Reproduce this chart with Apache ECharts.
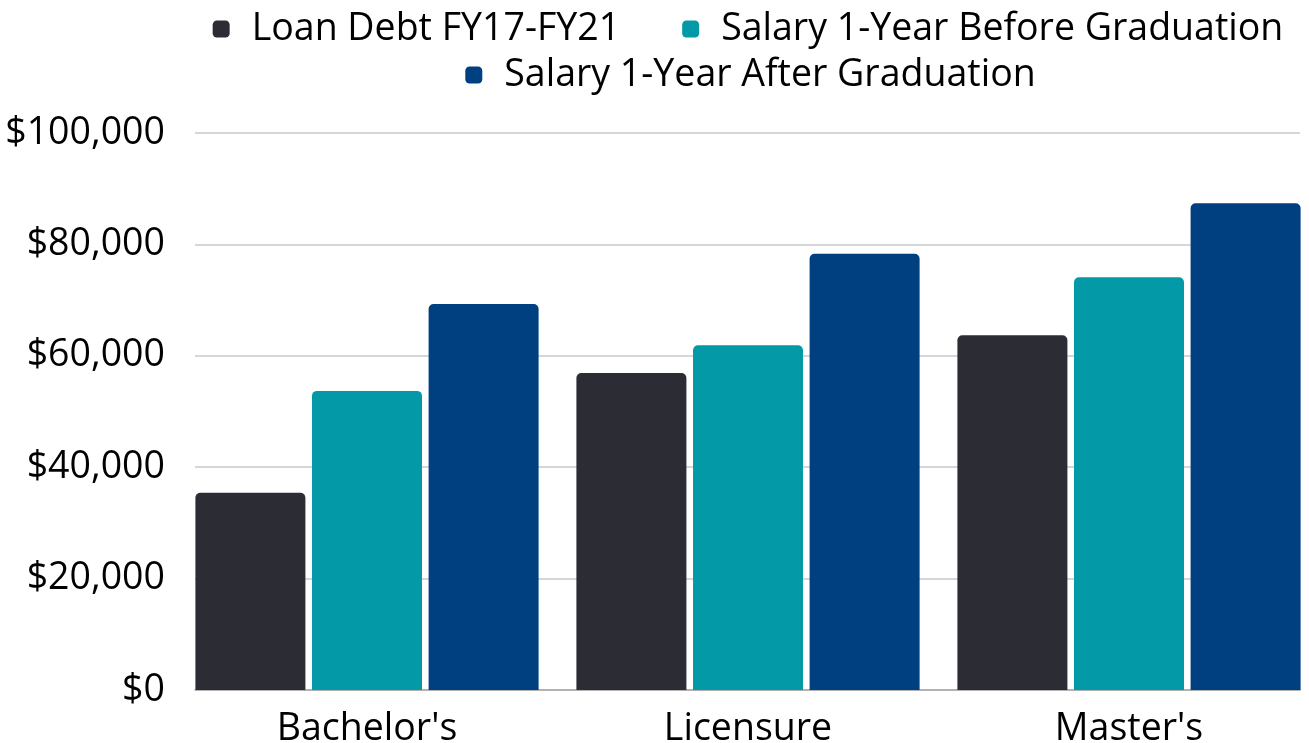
<!DOCTYPE html>
<html>
<head>
<meta charset="utf-8">
<script src="https://cdn.jsdelivr.net/npm/echarts@6/dist/echarts.min.js"></script>
<style>
  html, body { margin: 0; padding: 0; background: #fff; }
  #chart { width: 1309px; height: 743px; }
</style>
</head>
<body>
<div id="chart"></div>
<script>
var categories = ["Bachelor's", "Licensure", "Master's"];
var loanDebt = [35400, 56900, 63700];
var salaryBefore = [53700, 61900, 74100];
var salaryAfter = [69300, 78300, 87400];
var yTicks = [0, 20000, 40000, 60000, 80000, 100000];

var seriesNames = ['Loan Debt FY17-FY21', 'Salary 1-Year Before Graduation', 'Salary 1-Year After Graduation'];
var colors = ['#2c2c35', '#0399a7', '#003f80'];
var font = 'Open Sans';
var fontSize = 37.5;

var myChart = echarts.init(document.getElementById('chart'));

function money(v) {
    return '$' + v.toLocaleString('en-US');
}

// legend is centred over the plot area, not the page
var ctx = document.createElement('canvas').getContext('2d');
ctx.font = fontSize + 'px "' + font + '"';
var iconW = 17, textPad = 22, gap = 62;
function itemW(name) { return iconW + 5 + textPad + ctx.measureText(name).width; }
var plotCenter = 748;
var row1W = itemW(seriesNames[0]) + gap + itemW(seriesNames[1]);
var row2W = itemW(seriesNames[2]);

var legendText = {color: '#000', fontSize: fontSize, fontFamily: font, padding: [0, 0, 0, textPad - 5]};

option = {
    animation: false,
    color: colors,
    legend: [
        {
            data: [seriesNames[0], seriesNames[1]],
            top: 5,
            left: plotCenter - row1W / 2,
            icon: 'roundRect',
            itemWidth: iconW,
            itemHeight: iconW,
            itemGap: gap,
            textStyle: legendText
        },
        {
            data: [seriesNames[2]],
            top: 51,
            left: plotCenter - row2W / 2,
            icon: 'roundRect',
            itemWidth: iconW,
            itemHeight: iconW,
            textStyle: legendText
        }
    ],
    grid: [
        // gridlines + y labels
        {left: 195, right: 9, top: 133, bottom: 53, outerBoundsMode: 'none'},
        // bars (band is wider than the gridlines)
        {left: 176.5, width: 1143, top: 133, bottom: 53, outerBoundsMode: 'none'}
    ],
    xAxis: [
        {
            gridIndex: 0,
            type: 'category',
            data: categories,
            axisLine: {show: true, lineStyle: {color: '#a6a6a6', width: 1.5}},
            axisTick: {show: false},
            axisLabel: {show: false}
        },
        {
            gridIndex: 1,
            type: 'category',
            data: categories,
            axisLine: {show: false},
            axisTick: {show: false},
            axisLabel: {color: '#000', fontSize: fontSize, fontFamily: font, margin: 20}
        }
    ],
    yAxis: [
        {
            gridIndex: 0,
            type: 'value',
            min: yTicks[0],
            max: yTicks[yTicks.length - 1],
            interval: 20000,
            axisLine: {show: false},
            axisTick: {show: false},
            splitLine: {lineStyle: {color: '#c8c8c8', width: 1.5}},
            axisLabel: {color: '#000', fontSize: fontSize, fontFamily: font, margin: 30, formatter: money}
        },
        {
            gridIndex: 1,
            type: 'value',
            min: yTicks[0],
            max: yTicks[yTicks.length - 1],
            interval: 20000,
            show: false,
            splitLine: {show: false}
        }
    ],
    series: [
        {name: seriesNames[0], type: 'bar', xAxisIndex: 1, yAxisIndex: 1, data: loanDebt,
            barWidth: 110, barGap: '6%', itemStyle: {borderRadius: [5, 5, 0, 0]}},
        {name: seriesNames[1], type: 'bar', xAxisIndex: 1, yAxisIndex: 1, data: salaryBefore,
            barWidth: 110, barGap: '6%', itemStyle: {borderRadius: [5, 5, 0, 0]}},
        {name: seriesNames[2], type: 'bar', xAxisIndex: 1, yAxisIndex: 1, data: salaryAfter,
            barWidth: 110, barGap: '6%', itemStyle: {borderRadius: [5, 5, 0, 0]}}
    ]
};

if (option && typeof option === "object") {
    myChart.setOption(option, true);
}
</script>
</body>
</html>
